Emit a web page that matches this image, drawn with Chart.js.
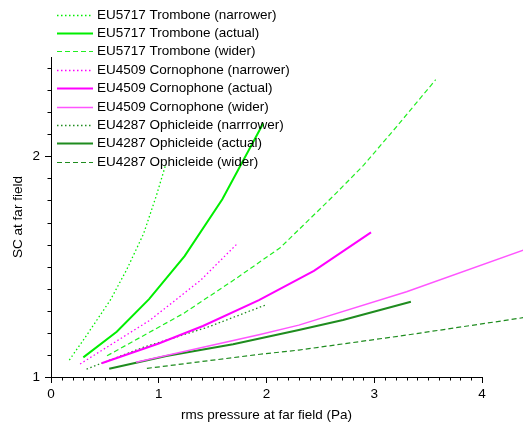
<!DOCTYPE html>
<html>
<head>
<meta charset="utf-8">
<script src="https://cdn.jsdelivr.net/npm/chart.js@4.4.1/dist/chart.umd.min.js"></script>
<style>
  html, body { margin: 0; padding: 0; background: #fff; }
</style>
</head>
<body>
<canvas id="myChart" width="523" height="423"></canvas>
<script>
// series (x = rms pressure in Pa, y = SC)
var tromboneNarrowX = [0.17, 0.30, 0.55, 0.70, 0.86, 0.98, 1.06];
var tromboneNarrowY = [1.077, 1.167, 1.348, 1.484, 1.650, 1.825, 1.955];
var tromboneActualX = [0.30, 0.61, 0.91, 1.24, 1.59, 1.97];
var tromboneActualY = [1.089, 1.205, 1.353, 1.548, 1.805, 2.150];
var tromboneWideX = [0.52, 1.23, 1.72, 2.13, 2.62, 2.90, 3.21, 3.57];
var tromboneWideY = [1.096, 1.288, 1.447, 1.587, 1.820, 1.959, 2.136, 2.347];

var cornoNarrowX = [0.27, 0.92, 1.39, 1.72];
var cornoNarrowY = [1.059, 1.258, 1.439, 1.600];
var cornoActualX = [0.47, 1.00, 1.41, 1.93, 2.44, 2.97];
var cornoActualY = [1.062, 1.152, 1.231, 1.348, 1.481, 1.655];
var cornoWideX = [0.79, 1.94, 2.30, 3.30, 4.40];
var cornoWideY = [1.067, 1.193, 1.235, 1.386, 1.578];

var ophiNarrowX = [0.33, 0.86, 1.45, 1.99];
var ophiNarrowY = [1.036, 1.135, 1.225, 1.326];
var ophiActualX = [0.54, 1.07, 1.69, 2.30, 2.71, 3.34];
var ophiActualY = [1.037, 1.095, 1.148, 1.213, 1.258, 1.341];
var ophiWideX = [0.89, 1.94, 2.30, 3.30, 4.40];
var ophiWideY = [1.039, 1.103, 1.122, 1.190, 1.270];

// axes
var xMin = 0, xMax = 4, xStep = 1, xMinorStep = 0.1;
var yMin = 1, yMax = 2.45, yStep = 1, yMinorStep = 0.1;

var LIME = "#00ee00", LIME_LIGHT = "#22ee22";
var MAGENTA = "#ff00ff", MAGENTA_LIGHT = "#ff55ff";
var GREEN = "#1f8c1f";
var DOT = [1.5, 2.5], DASH = [5, 3];

function pts(xs, ys) {
  return xs.map(function (x, i) { return { x: x, y: ys[i] }; });
}

function series(label, xs, ys, color, width, dash) {
  return {
    label: label,
    data: pts(xs, ys),
    borderColor: color,
    backgroundColor: color,
    borderWidth: width,
    borderDash: dash,
    pointRadius: 0,
    tension: 0,
    fill: false,
    clip: false
  };
}

// legend drawn over the plot, top left
var overlayLegend = {
  id: "overlayLegend",
  afterDraw: function (chart) {
    var ctx = chart.ctx;
    ctx.save();
    ctx.font = "13.5px 'Liberation Sans', Arial, sans-serif";
    ctx.textBaseline = "middle";
    chart.data.datasets.forEach(function (ds, i) {
      var y = Math.round(14.5 + i * 18.4) + 0.5;
      ctx.strokeStyle = ds.borderColor;
      ctx.lineWidth = ds.borderWidth;
      ctx.setLineDash(ds.borderDash || []);
      ctx.beginPath();
      ctx.moveTo(57, y);
      ctx.lineTo(93, y);
      ctx.stroke();
      ctx.setLineDash([]);
      ctx.fillStyle = "#000";
      ctx.fillText(ds.label, 97, y);
    });
    ctx.restore();
  }
};

// short unlabelled ticks between the major ones
var minorTicks = {
  id: "minorTicks",
  afterDraw: function (chart) {
    var ctx = chart.ctx, xs = chart.scales.x, ys = chart.scales.y;
    var left = chart.chartArea.left, bottom = chart.chartArea.bottom;
    ctx.save();
    ctx.strokeStyle = "#000";
    ctx.lineWidth = 1;
    ctx.beginPath();
    var n = Math.round((xMax - xMin) / xMinorStep);
    for (var i = 1; i < n; i++) {
      var v = xMin + i * xMinorStep;
      if (Math.abs(v / xStep - Math.round(v / xStep)) < 1e-6) continue;
      var px = Math.round(xs.getPixelForValue(v)) + 0.5;
      ctx.moveTo(px, bottom);
      ctx.lineTo(px, bottom + 3.5);
    }
    var m = Math.floor((yMax - yMin) / yMinorStep + 1e-6);
    for (var j = 1; j <= m; j++) {
      var w = yMin + j * yMinorStep;
      if (Math.abs(w / yStep - Math.round(w / yStep)) < 1e-6) continue;
      var py = Math.round(ys.getPixelForValue(w)) + 0.5;
      ctx.moveTo(left, py);
      ctx.lineTo(left - 3.5, py);
    }
    ctx.stroke();
    ctx.restore();
  }
};

Chart.defaults.font.family = "'Liberation Sans', Arial, sans-serif";
Chart.defaults.font.size = 13.5;
Chart.defaults.color = "#000";

var ctx = document.getElementById("myChart").getContext("2d");
var myChart = new Chart(ctx, {
  type: "line",
  data: {
    datasets: [
      series("EU5717 Trombone (narrower)", tromboneNarrowX, tromboneNarrowY, LIME, 1.3, DOT),
      series("EU5717 Trombone (actual)", tromboneActualX, tromboneActualY, LIME, 2, []),
      series("EU5717 Trombone (wider)", tromboneWideX, tromboneWideY, LIME_LIGHT, 1.2, DASH),
      series("EU4509 Cornophone (narrower)", cornoNarrowX, cornoNarrowY, MAGENTA, 1.3, DOT),
      series("EU4509 Cornophone (actual)", cornoActualX, cornoActualY, MAGENTA, 2, []),
      series("EU4509 Cornophone (wider)", cornoWideX, cornoWideY, MAGENTA_LIGHT, 1.5, []),
      series("EU4287 Ophicleide (narrrower)", ophiNarrowX, ophiNarrowY, GREEN, 1.3, DOT),
      series("EU4287 Ophicleide (actual)", ophiActualX, ophiActualY, GREEN, 2, []),
      series("EU4287 Ophicleide (wider)", ophiWideX, ophiWideY, GREEN, 1.2, DASH)
    ]
  },
  options: {
    responsive: false,
    animation: false,
    devicePixelRatio: 1,
    layout: { padding: { left: 0, top: 57, right: 41, bottom: 0 } },
    plugins: {
      legend: { display: false },
      tooltip: { enabled: false }
    },
    scales: {
      x: {
        type: "linear",
        min: xMin,
        max: xMax,
        afterFit: function (scale) { scale.height = 46; },
        ticks: { stepSize: xStep, padding: 3, includeBounds: false },
        grid: { drawOnChartArea: false, tickLength: 6, color: "#000" },
        border: { color: "#000", width: 1 },
        title: { display: true, text: "rms pressure at far field (Pa)", padding: { top: 1.3, bottom: 0 } }
      },
      y: {
        type: "linear",
        min: yMin,
        max: yMax,
        afterFit: function (scale) { scale.width = 51; },
        ticks: { stepSize: yStep, padding: 5, includeBounds: false },
        grid: { drawOnChartArea: false, tickLength: 6, color: "#000" },
        border: { color: "#000", width: 1 },
        title: { display: true, text: "SC at far field", padding: { top: 10.5, bottom: 0 } }
      }
    }
  },
  plugins: [minorTicks, overlayLegend]
});
</script>
</body>
</html>
